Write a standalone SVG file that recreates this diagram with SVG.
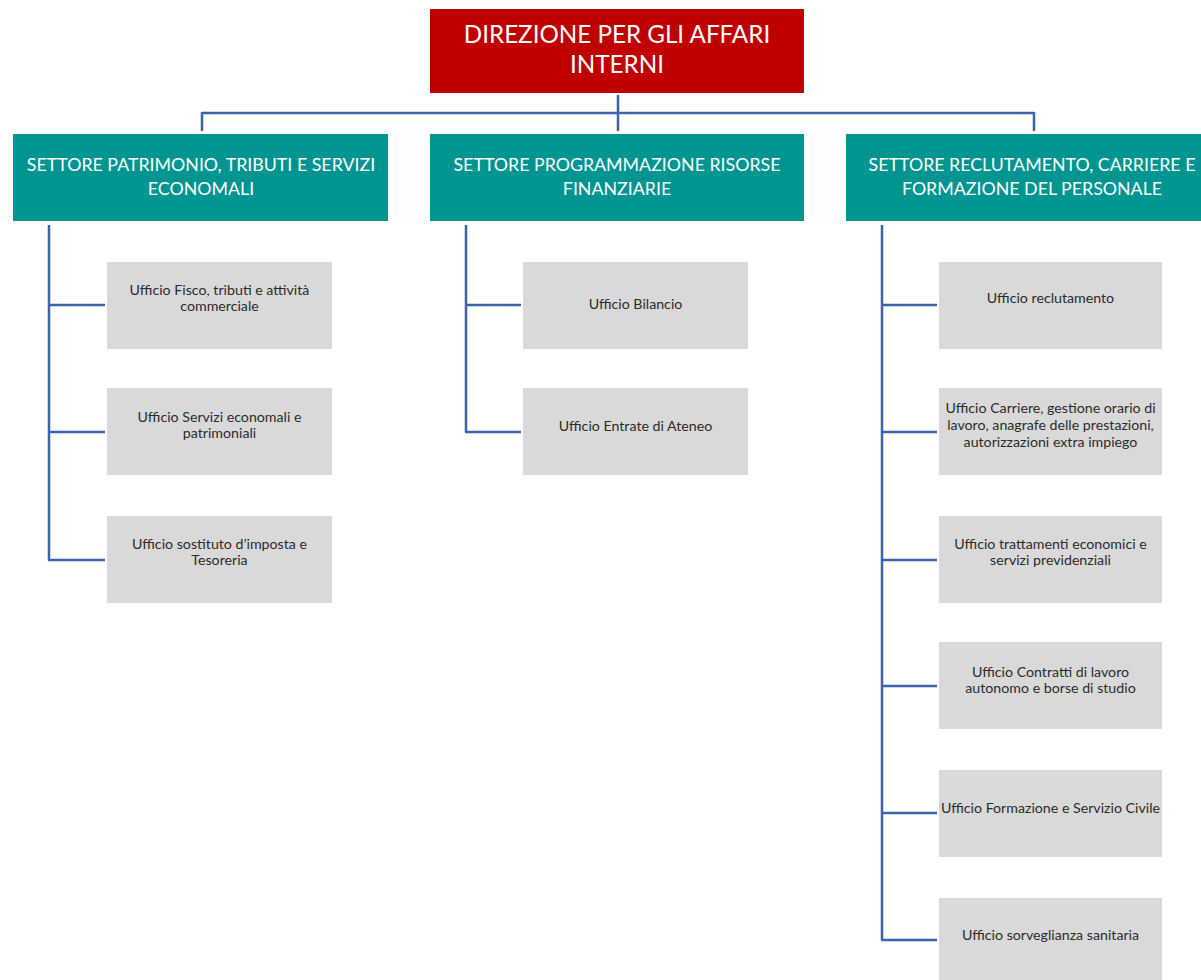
<svg xmlns="http://www.w3.org/2000/svg" width="1201" height="980" viewBox="0 0 1201 980">
<style>
.top{fill:#c00000}
.set{fill:#009590}
.uff{fill:#d9d9d9}
.tw{fill:#ffffff;font-family:Lato,"Open Sans",sans-serif;text-anchor:middle}
.tb{font-size:24.2px}
.ts{font-size:17.8px}
.tg{fill:#2b2b2b;font-family:Lato,"Open Sans",sans-serif;font-size:14.2px;text-anchor:middle}
.c{stroke:#3e62ad;stroke-width:2.5;fill:none}
</style>
<rect width="1201" height="980" fill="#ffffff"/>
<g id="connectors">
<path class="c" d="M618 95V131M202 113H1034M202 112V131M1034 112V131"/>
<path class="c" d="M49 225V560M48 305H105M48 432H105M48 560H105"/>
<path class="c" d="M466 225V432M465 305H521M465 432H521"/>
<path class="c" d="M882 225V940M881 305H937M881 432H937M881 560H937M881 686H937M881 813H937M881 940H937"/>
</g>
<g id="direzione">
<rect class="top" x="430" y="9" width="374" height="84"/>
<text class="tw tb" x="617" y="43">DIREZIONE PER GLI AFFARI</text>
<text class="tw tb" x="617" y="73">INTERNI</text>
</g>
<g id="settore1">
<rect class="set" x="13" y="134" width="375" height="87"/>
<text class="tw ts" x="201" y="171">SETTORE PATRIMONIO, TRIBUTI E SERVIZI</text>
<text class="tw ts" x="201" y="195">ECONOMALI</text>
</g>
<g id="settore2">
<rect class="set" x="430" y="134" width="374" height="87"/>
<text class="tw ts" x="617" y="171">SETTORE PROGRAMMAZIONE RISORSE</text>
<text class="tw ts" x="617" y="195">FINANZIARIE</text>
</g>
<g id="settore3">
<rect class="set" x="846" y="134" width="360" height="87"/>
<text class="tw ts" x="1032" y="171">SETTORE RECLUTAMENTO, CARRIERE E</text>
<text class="tw ts" x="1032" y="195">FORMAZIONE DEL PERSONALE</text>
</g>
<g id="u1a"><rect class="uff" x="107" y="262" width="225" height="87"/>
<text class="tg" x="219.5" y="295">Ufficio Fisco, tributi e attività</text>
<text class="tg" x="219.5" y="311">commerciale</text></g>
<g id="u1b"><rect class="uff" x="107" y="388" width="225" height="87"/>
<text class="tg" x="219.5" y="422">Ufficio Servizi economali e</text>
<text class="tg" x="219.5" y="438">patrimoniali</text></g>
<g id="u1c"><rect class="uff" x="107" y="516" width="225" height="87"/>
<text class="tg" x="219.5" y="549">Ufficio sostituto d’imposta e</text>
<text class="tg" x="219.5" y="565">Tesoreria</text></g>
<g id="u2a"><rect class="uff" x="523" y="262" width="225" height="87"/>
<text class="tg" x="635.5" y="309">Ufficio Bilancio</text></g>
<g id="u2b"><rect class="uff" x="523" y="388" width="225" height="87"/>
<text class="tg" x="635.5" y="431">Ufficio Entrate di Ateneo</text></g>
<g id="u3a"><rect class="uff" x="939" y="262" width="223" height="87"/>
<text class="tg" x="1050.5" y="303">Ufficio reclutamento</text></g>
<g id="u3b"><rect class="uff" x="939" y="388" width="223" height="87"/>
<text class="tg" x="1050.5" y="413">Ufficio Carriere, gestione orario di</text>
<text class="tg" x="1050.5" y="430">lavoro, anagrafe delle prestazioni,</text>
<text class="tg" x="1050.5" y="447">autorizzazioni extra impiego</text></g>
<g id="u3c"><rect class="uff" x="939" y="516" width="223" height="87"/>
<text class="tg" x="1050.5" y="549">Ufficio trattamenti economici e</text>
<text class="tg" x="1050.5" y="565">servizi previdenziali</text></g>
<g id="u3d"><rect class="uff" x="939" y="642" width="223" height="87"/>
<text class="tg" x="1050.5" y="677">Ufficio Contratti di lavoro</text>
<text class="tg" x="1050.5" y="693">autonomo e borse di studio</text></g>
<g id="u3e"><rect class="uff" x="939" y="770" width="223" height="87"/>
<text class="tg" x="1050.5" y="813">Ufficio Formazione e Servizio Civile</text></g>
<g id="u3f"><rect class="uff" x="939" y="898" width="223" height="87"/>
<text class="tg" x="1050.5" y="940">Ufficio sorveglianza sanitaria</text></g>
</svg>
